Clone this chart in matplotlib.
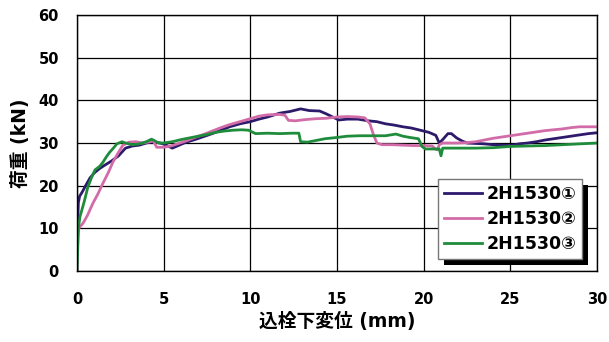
import matplotlib.pyplot as plt
from matplotlib.patches import Rectangle

# 荷重-変位データ（込栓試験 2H1530 x3体）
disp_1 = [0, 0.03, 0.08, 0.15, 0.3, 0.5, 0.75, 1.0, 1.3, 1.6,
          2.0, 2.4, 2.8, 3.2, 3.6, 4.0, 4.4, 4.8, 5.1, 5.5,
          5.9, 6.3, 6.8, 7.3, 7.8, 8.3, 8.8, 9.4, 10.0, 10.5,
          11.0, 11.7, 12.3, 12.9, 13.4, 14.0, 14.4, 14.8, 15.1, 15.6,
          16.2, 16.8, 17.3, 17.8, 18.3, 18.8, 19.3, 19.8, 20.3, 20.7,
          20.9, 21.1, 21.4, 21.6, 21.9, 22.2, 22.5, 23.0, 23.5, 24.0,
          24.5, 25.0, 25.5, 26.0, 26.5, 27.0, 27.5, 28.0, 28.5, 29.0,
          29.5, 30.0]
load_1 = [0, 10, 16, 17.5, 18.5, 20, 21.8, 23, 24, 24.8,
          25.8, 27, 28.8, 29.3, 29.5, 30, 30.3, 30, 29.6, 28.8,
          29.5, 30.2, 30.8, 31.5, 32.2, 33, 33.8, 34.5, 35, 35.6,
          36.1, 37, 37.4, 38, 37.6, 37.5, 36.8, 36, 35.4, 35.6,
          35.6, 35.2, 35, 34.5, 34.2, 33.8, 33.5, 33, 32.5, 31.8,
          30, 30.8, 32.2, 32.2, 31.2, 30.5, 30, 29.9, 29.8, 29.6,
          29.5, 29.4, 29.8, 30, 30.3, 30.7, 31, 31.3, 31.6, 31.9,
          32.2, 32.4]

disp_2 = [0, 0.05, 0.1, 0.35, 0.6, 0.92, 1.2, 1.5, 1.8, 2.07,
          2.35, 2.65, 3.0, 3.4, 3.8, 4.2, 4.4, 4.6, 5.0, 5.4,
          5.8, 6.3, 6.8, 7.3, 7.8, 8.3, 8.8, 9.4, 10.0, 10.5,
          11.0, 11.7, 12.0, 12.2, 12.6, 13.2, 13.8, 14.4, 15.0, 15.6,
          16.2, 16.6, 16.9, 17.1, 17.3, 17.6, 18.2, 18.8, 19.4, 20.0,
          20.5, 20.7, 20.8, 20.9, 21.1, 21.5, 22.0, 22.5, 23.0, 23.5,
          24.0, 24.5, 25.0, 25.5, 26.0, 26.5, 27.0, 27.5, 28.0, 28.5,
          29.0, 29.5, 30.0]
load_2 = [0, 8, 10, 11.2, 13, 15.9, 18, 20.6, 23, 25.5,
          27.5, 29.5, 30.2, 30.3, 30, 30.3, 30.5, 29, 29, 29.3,
          29.8, 30.5, 31.3, 32, 32.8, 33.6, 34.3, 35, 35.7, 36.3,
          36.6, 36.7, 36.5, 35.3, 35.2, 35.5, 35.7, 35.8, 36.1, 36.2,
          36.1, 35.9, 34.5, 32, 30, 29.6, 29.6, 29.5, 29.4, 29.4,
          29.3, 28.5, 28.4, 29.6, 30, 30, 30, 30.1, 30.3, 30.7,
          31.1, 31.4, 31.7, 32, 32.3, 32.6, 32.9, 33.1, 33.3, 33.6,
          33.8, 33.8, 33.8]

disp_3 = [0, 0.05, 0.08, 0.17, 0.4, 0.63, 0.85, 1.04, 1.3, 1.5,
          1.7, 1.9, 2.1, 2.3, 2.6, 2.8, 3.2, 3.6, 4.0, 4.3,
          4.5, 4.7, 5.0, 5.5, 6.0, 6.5, 7.0, 7.5, 8.0, 8.5,
          9.0, 9.5, 9.9, 10.3, 11.0, 11.7, 12.4, 12.8, 12.9, 13.3,
          13.8, 14.3, 15.0, 15.6, 16.3, 17.0, 17.8, 18.4, 18.8, 19.2,
          19.7, 19.9, 20.1, 20.5, 20.9, 21.0, 21.1, 21.3, 22.0, 23.0,
          24.0, 25.0, 26.0, 27.0, 28.0, 29.0, 30.0]
load_3 = [0, 6, 10, 12.7, 16, 19.7, 22, 23.7, 24.5, 25.5,
          26.8, 27.9, 28.8, 29.8, 30.3, 30.0, 29.6, 29.8, 30.3, 30.9,
          30.5, 30, 30, 30.3, 30.8, 31.2, 31.6, 32, 32.5, 32.8,
          33, 33.1, 33, 32.2, 32.3, 32.2, 32.3, 32.3, 30.3, 30.2,
          30.6, 31, 31.3, 31.6, 31.7, 31.7, 31.7, 32.1, 31.6, 31.3,
          31, 29.2, 28.6, 28.6, 28.6, 27, 28.8, 28.8, 28.8, 28.8,
          28.9, 29.2, 29.3, 29.4, 29.6, 29.8, 30]

labels = ["2H1530①", "2H1530②", "2H1530③"]
colors = ["#2d1a6b", "#d26ca8", "#1f8c3b"]

# 欧文は DejaVu、漢字・丸数字は Noto CJK
fonts = ["DejaVu Sans", "Noto Sans CJK JP"]

fig = plt.figure(figsize=(6.09, 3.42), dpi=100)
ax = fig.add_axes([0.1264, 0.2076, 0.8539, 0.7485])

for x, y, lab, c in zip([disp_1, disp_2, disp_3], [load_1, load_2, load_3],
                        labels, colors):
    ax.plot(x, y, color=c, lw=2.0, label=lab)

ax.set_xlim(0, 30)
ax.set_ylim(0, 60)
ax.set_xticks(range(0, 31, 5))
ax.set_yticks(range(0, 61, 10))
ax.grid(True, color="black", lw=0.9)
ax.tick_params(length=0)
ax.tick_params(axis="x", pad=15)
ax.tick_params(axis="y", pad=13)
for t in ax.get_xticklabels() + ax.get_yticklabels():
    t.set_fontweight("bold")
    t.set_fontsize(10.5)
for s in ax.spines.values():
    s.set_linewidth(1.0)

ax.set_xlabel("込栓下変位 (mm)", family=fonts, fontweight="bold", fontsize=13.5,
              labelpad=4)
ax.set_ylabel("荷重 (kN)", family=fonts, fontweight="bold", fontsize=13.5,
              labelpad=6)

leg = ax.legend(loc="upper left", bbox_to_anchor=(0.694, 0.359),
                borderaxespad=0, fancybox=False, framealpha=1,
                prop=dict(family=fonts, weight="bold", size=12.5),
                handlelength=2.2, handletextpad=0.25, labelspacing=0.4,
                borderpad=0.35)
leg.get_frame().set_edgecolor("#777777")
leg.get_frame().set_linewidth(1.0)

# 凡例の黒い影
fig.canvas.draw()
bb = leg.get_window_extent()
ax.add_patch(Rectangle((bb.x0 + 6, bb.y0 - 6), bb.width, bb.height,
                       transform=None, facecolor="black", edgecolor="none",
                       zorder=4.9, clip_on=False))

fig.savefig("out.png", dpi=100)
